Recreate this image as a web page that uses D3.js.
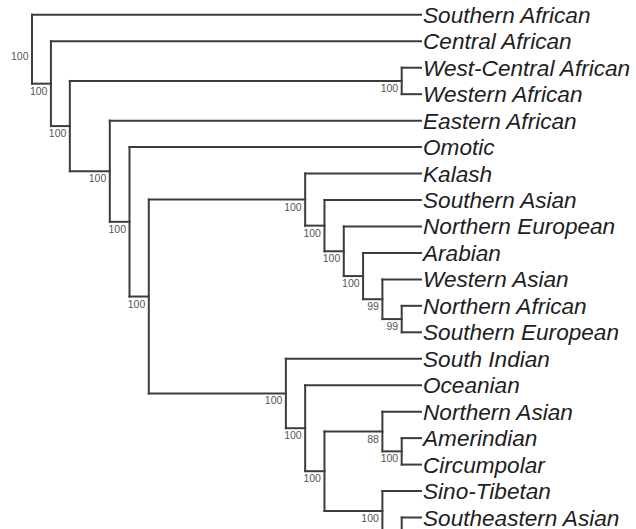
<!DOCTYPE html>
<html>
<head>
<meta charset="utf-8">
<script src="https://cdn.jsdelivr.net/npm/d3@7"></script>
<style>
  html, body { margin: 0; padding: 0; background: #fff; }
  svg { display: block; }
</style>
</head>
<body>
<svg id="tree" width="636" height="529"></svg>
<script>
// Leaves, top to bottom. The last leaf sits below the drawing area and carries no label.
const leaves = [
  "Southern African", "Central African", "West-Central African", "Western African",
  "Eastern African", "Omotic", "Kalash", "Southern Asian", "Northern European",
  "Arabian", "Western Asian", "Northern African", "Southern European",
  "South Indian", "Oceanian", "Northern Asian", "Amerindian", "Circumpolar",
  "Sino-Tibetan", "Southeastern Asian", ""
];

// Internal clades: id, its two children, node height (distance from the tips), bootstrap support.
const cladeIds = ["root", "n2", "n3", "n4", "n5", "n6", "n7", "n8", "n9", "n10",
  "n11", "n12", "n13", "n14", "n15", "n16", "n17", "n18", "n19", "n20"];
const cladeChildren = [
  ["Southern African", "n2"],
  ["Central African", "n3"],
  ["n4", "n5"],
  ["West-Central African", "Western African"],
  ["Eastern African", "n6"],
  ["Omotic", "n7"],
  ["n8", "n14"],
  ["Kalash", "n9"],
  ["Southern Asian", "n10"],
  ["Northern European", "n11"],
  ["Arabian", "n12"],
  ["Western Asian", "n13"],
  ["Northern African", "Southern European"],
  ["South Indian", "n15"],
  ["Oceanian", "n16"],
  ["n17", "n18"],
  ["Northern Asian", "n19"],
  ["Sino-Tibetan", "n20"],
  ["Amerindian", "Circumpolar"],
  ["Southeastern Asian", ""]
];
const cladeHeights = [20.15, 19.17, 18.19, 1, 16.12, 15.1, 14.1, 6, 5, 4,
  3, 2, 1, 7, 6, 5, 2, 2, 1, 1];
const cladeSupport = [100, 100, 100, 100, 100, 100, 100, 100, 100, 100,
  100, 99, 99, 100, 100, 100, 88, 100, 100, null];

// Build the nested tree from the tables.
const cladeIndex = new Map(cladeIds.map((id, i) => [id, i]));
function build(id) {
  if (cladeIndex.has(id)) {
    const i = cladeIndex.get(id);
    return { id, height: cladeHeights[i], support: cladeSupport[i],
             children: cladeChildren[i].map(build) };
  }
  return { id, height: 0, leaf: true };
}
const root = d3.hierarchy(build("root"));

const x = d3.scaleLinear().domain([0, d3.max(cladeHeights)]).range([421, 32]);
const y = d3.scaleLinear().domain([0, leaves.length - 2]).range([14.8, 517.5]);

// Tip rows follow leaf order; internal nodes sit midway between their two children.
root.eachAfter(d => {
  d.px = x(d.data.height);
  if (!d.children) d.py = y(leaves.indexOf(d.data.id));
  else d.py = d3.mean(d.children, c => c.py);
});

const svg = d3.select("#tree");
const lineColor = "#3c3c3c";

const g = svg.append("g");
// Elbow connectors: a vertical bar at each clade, then a horizontal run to each child.
root.descendants().filter(d => d.children).forEach(d => {
  const ys = d.children.map(c => c.py);
  g.append("line")
    .attr("x1", d.px).attr("x2", d.px)
    .attr("y1", d3.min(ys)).attr("y2", d3.max(ys))
    .attr("stroke", lineColor).attr("stroke-width", 2)
    .attr("stroke-linecap", "square");
  d.children.forEach(c => {
    g.append("line")
      .attr("x1", d.px).attr("x2", c.px)
      .attr("y1", c.py).attr("y2", c.py)
      .attr("stroke", lineColor).attr("stroke-width", 2)
      .attr("stroke-linecap", "square");
  });
});

// Tip labels
svg.append("g").selectAll("text")
  .data(root.leaves().filter(d => d.data.id !== ""))
  .join("text")
  .attr("x", d => d.px + 2)
  .attr("y", d => d.py + 8)
  .attr("font-family", "'Liberation Sans', Arial, sans-serif")
  .attr("font-style", "italic")
  .attr("font-size", 22.6)
  .attr("fill", "#1e1e1e")
  .text(d => d.data.id);

// Bootstrap support at each clade, tucked under the incoming branch.
svg.append("g").selectAll("text")
  .data(root.descendants().filter(d => d.children && d.data.support != null))
  .join("text")
  .attr("x", d => d.px - 3.5)
  .attr("y", d => d.py + 11)
  .attr("text-anchor", "end")
  .attr("font-family", "'Liberation Sans', Arial, sans-serif")
  .attr("font-size", 10.5)
  .attr("fill", "#555")
  .text(d => d.data.support);
</script>
</body>
</html>
